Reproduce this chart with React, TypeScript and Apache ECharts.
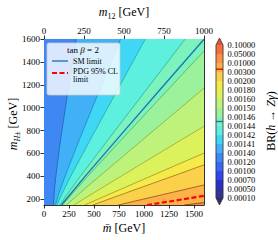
import { useEffect, useRef } from "react";
import * as echarts from "echarts";

const FONT = "'Liberation Serif', 'DejaVu Serif', serif";

// axis ticks
const mbarTicks = [0, 250, 500, 750, 1000, 1250, 1500];
const m12Ticks = [0, 250, 500, 750, 1000];
const mHTicks = [200, 400, 600, 800, 1000, 1200, 1400, 1600];

// colorbar
const cbLabels = [
  "0.00010", "0.00050", "0.00070", "0.00100", "0.00120", "0.00140",
  "0.00141", "0.00142", "0.00144", "0.00146", "0.00150", "0.00160",
  "0.00180", "0.00200", "0.00300", "0.01000", "0.05000", "0.10000",
];
const cbColors = [
  "#333390", "#2d2dc8", "#3044f2", "#3868f4", "#3f88f4", "#42b0f7",
  "#40d6f6", "#5ef0df", "#7cf2bd", "#9cf29a", "#bef27b", "#dcf25c",
  "#f4ea4a", "#fbd04a", "#fcb248", "#f99246", "#f46e40",
];
const underColor = "#2e2e6a";
const overColor = "#ec4c3c";

// contour lines: [mbar, mH]
const c0014 = [[93, 150], [101, 250], [118, 400], [162, 700], [231, 1100], [322, 1600]];
const c00141 = [[114, 150], [148, 250], [210, 400], [344, 700], [530, 1100], [766, 1600]];
const c00142 = [[130, 150], [181, 250], [267, 400], [450, 700], [700, 1100], [1013, 1600]];
const c00144 = [[159, 150], [237, 250], [363, 400], [623, 700], [973, 1100], [1412, 1600]];
const c00146 = [[183, 150], [436, 400], [859, 800], [1285, 1200], [1600, 1495]];
const c0015 = [[223, 150], [419, 300], [824, 600], [1232, 900], [1600, 1170]];
const c0016 = [[299, 150], [579, 300], [957, 500], [1337, 700], [1600, 838]];
const c0018 = [[407, 150], [668, 250], [1063, 400], [1327, 500], [1600, 603]];
const c0020 = [[487, 150], [803, 250], [1122, 350], [1345, 420], [1600, 500]];
const c0030 = [[743, 150], [988, 200], [1282, 260], [1600, 325]];
const c0100 = [[1403, 150], [1496, 160], [1600, 171]];

const contours = [c0014, c00141, c00142, c00144, c00146, c0015, c0016, c0018, c0020, c0030, c0100];
const contourLevelIdx = [5, 6, 7, 8, 9, 10, 11, 12, 13, 14, 15];
const contourLineColors = [
  "#1f5fb0", "#1e88b8", "#20a8a8", "#30b090", "#50b060", "#80b040",
  "#a0a830", "#a89028", "#a07028", "#905020", "#803820",
];
const backgroundBand = 4;

const smLine = [[174, 150], [410, 400], [805, 800], [1203, 1200], [1600, 1598]];
const pdgLine = [[1030, 150], [1250, 180], [1430, 206], [1600, 230]];
const smBR = 0.00145;
const pdgBR = 0.0052;

function brToIndex(v: number) {
  const nums = cbLabels.map(Number);
  for (let j = 0; j < nums.length - 1; j++) {
    if (v >= nums[j] && v <= nums[j + 1]) return j + (v - nums[j]) / (nums[j + 1] - nums[j]);
  }
  return 0;
}

export default function App() {
  const ref = useRef<HTMLDivElement>(null);
  useEffect(() => {
    document.body.style.margin = "0";
    const chart = echarts.init(ref.current!, undefined, { renderer: "svg" });
    const axisStyle = { color: "#000", width: 0.8 };
    const tickLabel = { color: "#000", fontSize: 9, fontFamily: FONT, formatter: (v: number) => String(v) };
    const fillData = [-1, ...contours.map((_, k) => k)].map((k) => [k]);

    const lineSeries = contours.map((c, k) => ({
      type: "line",
      xAxisIndex: 0,
      yAxisIndex: 0,
      data: c,
      showSymbol: false,
      symbol: "none",
      lineStyle: { color: contourLineColors[k], width: 0.8 },
      z: 3,
      silent: true,
    }));

    const cbData = [...cbColors.map((_, i) => [i]), [-1], [17], [100]];

    const option: any = {
      animation: false,
      grid: [
        { left: 44, top: 39, width: 160, height: 166, outerBoundsMode: "none", containLabel: false },
        { left: 216, top: 45, width: 7, height: 153, outerBoundsMode: "none", containLabel: false },
      ],
      xAxis: [
        {
          type: "value", gridIndex: 0, position: "bottom", min: 0, max: 1600,
          axisLine: { show: true, onZero: false, lineStyle: axisStyle },
          axisTick: { show: true, customValues: mbarTicks, length: 3.5, lineStyle: axisStyle },
          axisLabel: { customValues: mbarTicks, margin: 4, ...tickLabel },
          splitLine: { show: false },
        },
        {
          type: "value", gridIndex: 0, position: "top", min: 0, max: 1000,
          axisLine: { show: true, onZero: false, lineStyle: axisStyle },
          axisTick: { show: true, customValues: m12Ticks, length: 3.5, lineStyle: axisStyle },
          axisLabel: { customValues: m12Ticks, margin: 4, ...tickLabel },
          splitLine: { show: false },
        },
        {
          type: "value", gridIndex: 1, min: 0, max: 1, show: false,
        },
      ],
      yAxis: [
        {
          type: "value", gridIndex: 0, position: "left", min: 150, max: 1600,
          axisLine: { show: true, onZero: false, lineStyle: axisStyle },
          axisTick: { show: true, customValues: mHTicks, length: 3.5, lineStyle: axisStyle },
          axisLabel: { customValues: mHTicks, margin: 4, ...tickLabel },
          splitLine: { show: false },
        },
        {
          type: "value", gridIndex: 0, position: "right", min: 150, max: 1600,
          axisLine: { show: true, onZero: false, lineStyle: axisStyle },
          axisTick: { show: false },
          axisLabel: { show: false },
          splitLine: { show: false },
        },
        {
          type: "value", gridIndex: 1, position: "right", min: 0, max: 17,
          axisLine: { show: false },
          axisTick: { show: true, customValues: cbLabels.map((_, i) => i), length: 3, lineStyle: axisStyle },
          axisLabel: {
            customValues: cbLabels.map((_, i) => i), margin: 4.5,
            ...tickLabel, fontSize: 8.5,
            formatter: (v: number) => cbLabels[Math.round(v)] ?? "",
          },
          splitLine: { show: false },
        },
      ],
      series: [
        {
          type: "custom",
          xAxisIndex: 0,
          yAxisIndex: 0,
          data: fillData,
          clip: true,
          silent: true,
          z: 1,
          renderItem: (_p: any, api: any) => {
            const k = api.value(0);
            let pts: number[][];
            let color: string;
            if (k < 0) {
              pts = [[0, 150], [1600, 150], [1600, 1600], [0, 1600]];
              color = cbColors[backgroundBand];
            } else {
              const c = contours[k];
              const last = c[c.length - 1];
              pts = c.slice();
              if (last[1] >= 1600) pts.push([1600, 1600]);
              pts.push([1600, 150]);
              color = cbColors[contourLevelIdx[k]];
            }
            return {
              type: "polygon",
              shape: { points: pts.map((p) => api.coord(p)) },
              style: { fill: color, stroke: color, lineWidth: 0.3 },
            };
          },
        },
        ...lineSeries,
        {
          type: "line", xAxisIndex: 0, yAxisIndex: 0, data: smLine, showSymbol: false, symbol: "none",
          lineStyle: { color: "#1f77b4", width: 1.4 }, z: 4, silent: true,
        },
        {
          type: "line", xAxisIndex: 0, yAxisIndex: 0, data: pdgLine, showSymbol: false, symbol: "none",
          lineStyle: { color: "#ff0000", width: 2.2, type: [5, 2.5] }, z: 4, silent: true,
        },
        {
          type: "custom",
          xAxisIndex: 2,
          yAxisIndex: 2,
          data: cbData,
          clip: false,
          silent: true,
          renderItem: (_p: any, api: any) => {
            const i = api.value(0);
            const a = api.coord([0, 0]);
            const b = api.coord([1, 17]);
            const midX = (a[0] + b[0]) / 2;
            if (i === -1) {
              return { type: "polygon", shape: { points: [a, [b[0], a[1]], [midX, a[1] + 7]] }, style: { fill: underColor } };
            }
            if (i === 17) {
              return { type: "polygon", shape: { points: [[a[0], b[1]], b, [midX, b[1] - 7]] }, style: { fill: overColor } };
            }
            if (i === 100) {
              const sm = api.coord([0, brToIndex(smBR)])[1];
              const pdg = api.coord([0, brToIndex(pdgBR)])[1];
              return {
                type: "group",
                children: [
                  { type: "line", shape: { x1: a[0], y1: sm, x2: b[0], y2: sm }, style: { stroke: "#1f77b4", lineWidth: 1.4 } },
                  { type: "line", shape: { x1: a[0], y1: pdg, x2: b[0], y2: pdg }, style: { stroke: "#ff0000", lineWidth: 1.4 } },
                  {
                    type: "polygon",
                    shape: { points: [[a[0], b[1]], [midX, b[1] - 7], b, [b[0], a[1]], [midX, a[1] + 7], a] },
                    style: { fill: "none", stroke: "#333", lineWidth: 0.8 },
                  },
                ],
              };
            }
            const p0 = api.coord([0, i]);
            const p1 = api.coord([1, i + 1]);
            return {
              type: "rect",
              shape: { x: p0[0], y: p1[1], width: p1[0] - p0[0], height: p0[1] - p1[1] },
              style: { fill: cbColors[i], stroke: cbColors[i], lineWidth: 0.3 },
            };
          },
        },
      ],
      graphic: [
        {
          type: "text", x: 124, y: 12, z: 100,
          style: {
            text: "{i|m}{s|12}{n| [GeV]}", align: "center", verticalAlign: "middle", fill: "#000",
            rich: {
              i: { fontStyle: "italic", fontSize: 12, lineHeight: 16, fontFamily: FONT },
              s: { fontSize: 8, lineHeight: 8, verticalAlign: "bottom", fontFamily: FONT },
              n: { fontSize: 12, lineHeight: 16, fontFamily: FONT },
            },
          },
        },
        {
          type: "text", x: 124, y: 228, z: 100,
          style: {
            text: "{i|m\u0304}{n| [GeV]}", align: "center", verticalAlign: "middle", fill: "#000",
            rich: {
              i: { fontStyle: "italic", fontSize: 12, lineHeight: 16, fontFamily: FONT },
              n: { fontSize: 12, lineHeight: 16, fontFamily: FONT },
            },
          },
        },
        {
          type: "text", x: 13, y: 124, rotation: Math.PI / 2, z: 100,
          style: {
            text: "{i|m}{s|H\u00b1}{n| [GeV]}", align: "center", verticalAlign: "middle", fill: "#000",
            rich: {
              i: { fontStyle: "italic", fontSize: 12, lineHeight: 16, fontFamily: FONT },
              s: { fontStyle: "italic", fontSize: 8, lineHeight: 8, verticalAlign: "bottom", fontFamily: FONT },
              n: { fontSize: 12, lineHeight: 16, fontFamily: FONT },
            },
          },
        },
        {
          type: "text", x: 271, y: 121, rotation: Math.PI / 2, z: 100,
          style: {
            text: "{n|BR(}{i|h}{n| \u2192 }{i|Z\u03b3}{n|)}", align: "center", verticalAlign: "middle", fill: "#000",
            rich: {
              i: { fontStyle: "italic", fontSize: 12, lineHeight: 16, fontFamily: FONT },
              n: { fontSize: 12, lineHeight: 16, fontFamily: FONT },
            },
          },
        },
        {
          type: "rect", z: 100,
          shape: { x: 47, y: 43, width: 73, height: 52, r: 2 },
          style: { fill: "rgba(255,255,255,0.8)", stroke: "#cccccc", lineWidth: 0.8 },
        },
        {
          type: "text", x: 83, y: 50, z: 101,
          style: {
            text: "{n|tan }{i|\u03b2}{n| = 2}", align: "center", verticalAlign: "middle", fill: "#000",
            rich: {
              i: { fontStyle: "italic", fontSize: 9, fontFamily: FONT },
              n: { fontSize: 9, fontFamily: FONT },
            },
          },
        },
        {
          type: "line", z: 101, shape: { x1: 52, y1: 61, x2: 68, y2: 61 },
          style: { stroke: "#1f77b4", lineWidth: 1.4 },
        },
        {
          type: "text", x: 73, y: 61, z: 101,
          style: { text: "SM limit", fontSize: 8, fontFamily: FONT, fill: "#000", align: "left", verticalAlign: "middle" },
        },
        {
          type: "line", z: 101, shape: { x1: 52, y1: 73, x2: 68, y2: 73 },
          style: { stroke: "#ff0000", lineWidth: 2.2, lineDash: [5, 2.5] },
        },
        {
          type: "text", x: 73, y: 71, z: 101,
          style: { text: "PDG 95% CL", fontSize: 8, fontFamily: FONT, fill: "#000", align: "left", verticalAlign: "middle" },
        },
        {
          type: "text", x: 73, y: 79, z: 101,
          style: { text: "limit", fontSize: 8, fontFamily: FONT, fill: "#000", align: "left", verticalAlign: "middle" },
        },
      ],
    };
    chart.setOption(option);
    return () => chart.dispose();
  }, []);
  return <div ref={ref} style={{ width: 278, height: 240 }} />;
}
